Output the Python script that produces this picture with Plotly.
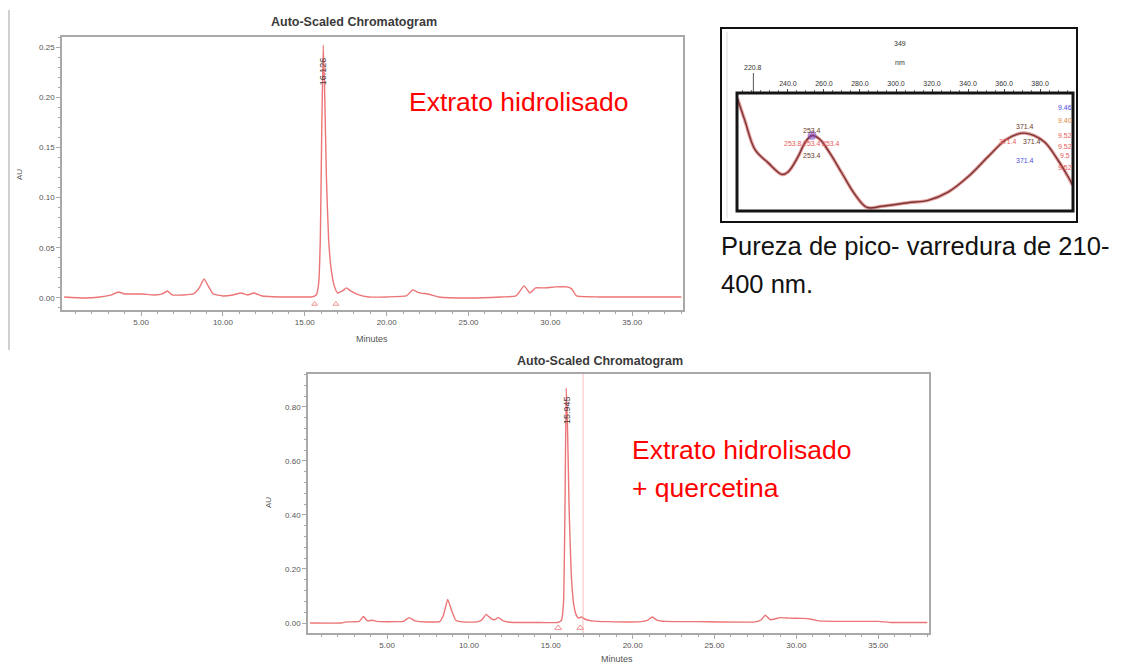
import plotly.graph_objects as go

W, H = 1131, 664

# --- Chromatogram 1: hydrolysed extract (time in min, absorbance in AU) ---
ext_time = [0.3, 1.5, 2.5, 3.2, 3.6, 4.0, 5.0, 5.8, 6.3, 6.6, 6.9, 7.6, 8.2, 8.55, 8.85,
            9.1, 9.4, 10.0, 10.6, 11.1, 11.5, 11.9, 12.4, 13.5, 14.5, 15.4, 15.7, 15.85,
            15.95, 16.03, 16.126, 16.22, 16.32, 16.45, 16.6, 16.8, 17.0, 17.3, 17.55,
            17.8, 18.3, 18.9, 20.0, 21.2, 21.6, 22.0, 22.5, 23.2, 25.0, 27.0, 27.9, 28.4,
            28.75, 29.1, 29.6, 30.3, 31.0, 31.3, 31.6, 33.0, 35.0, 38.0]
ext_au = [0.001, 0.000, 0.001, 0.003, 0.006, 0.004, 0.004, 0.003, 0.004, 0.007, 0.003,
          0.003, 0.004, 0.010, 0.019, 0.012, 0.004, 0.002, 0.003, 0.005, 0.003, 0.005,
          0.002, 0.001, 0.001, 0.001, 0.003, 0.015, 0.060, 0.160, 0.252, 0.200, 0.120,
          0.060, 0.030, 0.012, 0.005, 0.007, 0.010, 0.007, 0.003, 0.001, 0.001, 0.002,
          0.008, 0.005, 0.004, 0.001, 0.000, 0.001, 0.002, 0.012, 0.005, 0.010, 0.010,
          0.011, 0.011, 0.009, 0.002, 0.001, 0.001, 0.001]
ext_peak_rt = 16.126
ext_peak_label = "16.126"
ext_marks_t = [15.6, 16.9]

# --- Chromatogram 2: hydrolysed extract spiked with quercetin ---
spk_time = [0.3, 2.2, 2.5, 3.3, 3.55, 3.8, 4.1, 4.4, 5.5, 6.0, 6.35, 6.7, 7.5, 8.2, 8.45,
            8.7, 8.95, 9.2, 9.6, 10.5, 10.8, 11.05, 11.35, 11.55, 11.8, 12.1, 12.5, 14.0,
            15.4, 15.65, 15.78, 15.87, 15.945, 16.03, 16.12, 16.25, 16.4, 16.55, 16.7,
            16.85, 17.1, 17.5, 18.5, 20.5, 20.9, 21.2, 21.5, 22.0, 24.0, 27.5, 27.85,
            28.1, 28.4, 28.7, 29.0, 29.6, 30.4, 30.9, 31.4, 33.0, 35.0, 35.8, 38.0]
spk_au = [0.000, 0.000, 0.004, 0.006, 0.024, 0.008, 0.010, 0.006, 0.005, 0.006, 0.020,
          0.008, 0.004, 0.005, 0.030, 0.087, 0.045, 0.010, 0.004, 0.004, 0.012, 0.032,
          0.016, 0.012, 0.020, 0.008, 0.003, 0.002, 0.002, 0.010, 0.080, 0.450, 0.870,
          0.700, 0.420, 0.180, 0.070, 0.030, 0.018, 0.022, 0.014, 0.008, 0.005, 0.005,
          0.010, 0.022, 0.010, 0.006, 0.005, 0.004, 0.012, 0.029, 0.012, 0.015, 0.020,
          0.018, 0.017, 0.014, 0.008, 0.006, 0.006, 0.002, 0.002]
spk_peak_rt = 15.945
spk_peak_label = "15.945"
spk_marks_t = [15.45, 16.8]
spk_end_line_t = 16.97

# --- UV spectrum across the main peak (relative absorbance) ---
wl_nm = [212.0, 216.0, 221.7, 228.9, 236.7, 240.0, 245.6, 249.5, 253.4, 257.5, 263.3,
         270.0, 277.2, 283.9, 292.2, 306.7, 317.8, 328.9, 340.0, 351.1, 360.6, 367.0,
         371.4, 376.5, 382.8, 390.0, 395.6, 398.0]
rel_abs = [0.95, 0.77, 0.52, 0.41, 0.31, 0.33, 0.46, 0.58, 0.64, 0.61, 0.49, 0.32, 0.14,
           0.03, 0.04, 0.07, 0.09, 0.16, 0.29, 0.46, 0.60, 0.65, 0.66, 0.64, 0.58, 0.43,
           0.29, 0.22]
wl_ticks = [240, 260, 280, 300, 320, 340, 360, 380]
lambda_max = [253.4, 371.4]
scan_start_label = "220.8"

LINE = "#ec7476"
AXC = "#a8a8a8"
TXT = "#555555"
FONT = "Liberation Sans, Arial, sans-serif"


def px(x):
    return x / W


def py(y):
    return 1 - y / H


def note(text, x, y, size, color, xref="paper", yref="paper", xanchor="center", **kw):
    if xref == "paper":
        x = px(x)
    if yref == "paper":
        y = py(y)
    return dict(text=text, x=x, y=y, xref=xref, yref=yref, xanchor=xanchor, yanchor="middle",
                showarrow=False, font=dict(size=size, color=color, family=FONT), **kw)


fig = go.Figure()

fig.add_trace(go.Scatter(x=ext_time, y=ext_au, mode="lines",
                         line=dict(color=LINE, width=1.4, shape="spline", smoothing=0.4),
                         xaxis="x", yaxis="y", hoverinfo="skip"))
fig.add_trace(go.Scatter(x=ext_marks_t, y=[-0.006] * len(ext_marks_t), mode="markers",
                         marker=dict(symbol="triangle-up-open", size=5, color="#f09090"),
                         xaxis="x", yaxis="y", hoverinfo="skip"))

fig.add_trace(go.Scatter(x=spk_time, y=spk_au, mode="lines",
                         line=dict(color=LINE, width=1.4, shape="spline", smoothing=0.4),
                         xaxis="x2", yaxis="y2", hoverinfo="skip"))
fig.add_trace(go.Scatter(x=spk_marks_t, y=[-0.018] * len(spk_marks_t), mode="markers",
                         marker=dict(symbol="triangle-up-open", size=6, color="#f09090"),
                         xaxis="x2", yaxis="y2", hoverinfo="skip"))

fig.add_trace(go.Scatter(x=wl_nm, y=rel_abs, mode="lines",
                         line=dict(color="#e6a0a0", width=3.5, shape="spline", smoothing=1.0),
                         xaxis="x3", yaxis="y3", hoverinfo="skip"))
fig.add_trace(go.Scatter(x=wl_nm, y=rel_abs, mode="lines",
                         line=dict(color="#7a3434", width=1.4, shape="spline", smoothing=1.0),
                         xaxis="x3", yaxis="y3", hoverinfo="skip"))
fig.add_trace(go.Scatter(x=[lambda_max[0]], y=[rel_abs[wl_nm.index(lambda_max[0])]], mode="markers",
                         marker=dict(size=9, color="rgba(120,70,200,0.55)"),
                         xaxis="x3", yaxis="y3", hoverinfo="skip"))


def chrom_xaxis(domain, anchor):
    return dict(domain=domain, anchor=anchor, range=[0.17, 38.1], showgrid=False, zeroline=False,
                showline=True, linecolor=AXC, linewidth=1.5, mirror=True,
                ticks="outside", ticklen=4, tickcolor=AXC,
                tickvals=[5, 10, 15, 20, 25, 30, 35], tickformat=".2f",
                tickfont=dict(size=8, color=TXT, family=FONT),
                minor=dict(dtick=1, ticks="outside", ticklen=2, tickcolor=AXC))


def chrom_yaxis(domain, anchor, rng, dtick, minor):
    return dict(domain=domain, anchor=anchor, range=rng, showgrid=False, zeroline=False,
                showline=True, linecolor=AXC, linewidth=1.5, mirror=True,
                ticks="outside", ticklen=4, tickcolor=AXC, dtick=dtick, tick0=0,
                tickformat=".2f", tickfont=dict(size=8, color=TXT, family=FONT),
                minor=dict(dtick=minor, ticks="outside", ticklen=2, tickcolor=AXC))


annotations = []
shapes = []

# chart titles, axis titles
for xc, yc in [(354, 22), (600, 361)]:
    annotations.append(note("<b>Auto-Scaled Chromatogram</b>", xc, yc, 12.5, "#3a3a3a"))
for xc, yc in [(372, 339), (617, 659)]:
    annotations.append(note("Minutes", xc, yc, 9, TXT))
for xc, yc in [(20, 175), (268, 503)]:
    annotations.append(note("AU", xc, yc, 8, TXT, textangle=-90))

# retention time labels
annotations.append(note(ext_peak_label, ext_peak_rt, 0.226, 9, "#4a3a3a", xref="x", yref="y", textangle=-90))
annotations.append(note(spk_peak_label, spk_peak_rt, 0.79, 9, "#4a3a3a", xref="x2", yref="y2", textangle=-90))

# sample captions
RED = "#ff0000"
annotations.append(note("Extrato hidrolisado", 407, 102, 26.5, RED, xanchor="left"))
annotations.append(note("Extrato hidrolisado", 630, 450, 26.5, RED, xanchor="left"))
annotations.append(note("+ quercetina", 630, 488, 26.5, RED, xanchor="left"))

# spectrum caption
annotations.append(note("Pureza de pico- varredura de 210-", 719, 246, 25.5, "#111111", xanchor="left"))
annotations.append(note("400 nm.", 719, 284, 25.5, "#111111", xanchor="left"))

# spectrum header texts
annotations.append(note("349", 900, 43, 7, "#333333"))
annotations.append(note("nm", 900, 62, 7, "#333333"))
annotations.append(note(scan_start_label, float(scan_start_label), 67, 7, "#333333", xref="x3"))
shapes.append(dict(type="line", xref="x3", yref="paper", x0=float(scan_start_label),
                   x1=float(scan_start_label), y0=py(73), y1=py(93), line=dict(color="#555555", width=1)))

# lambda-max labels on the spectrum
DARK, LRED, BLUE, ORANGE = "#6b3a2a", "#e85a5a", "#4a4ad8", "#e08a40"
lm1, lm2 = lambda_max
spec_labels = [
    (f"{lm1:.1f}", lm1, 0.68, DARK), (f"{lm1:.1f}", lm1, 0.47, DARK),
    ("253.8", lm1 - 10.5, 0.575, LRED), (f"{lm1:.1f}", lm1, 0.575, LRED), (f"{lm1:.1f}", lm1 + 10.5, 0.575, LRED),
    (f"{lm2:.1f}", lm2, 0.72, DARK), (f"{lm2:.1f}", lm2, 0.43, BLUE),
    (f"{lm2:.1f}", lm2 - 9, 0.585, LRED), (f"{lm2:.1f}", lm2 + 4, 0.585, DARK),
    ("9.46", 394, 0.88, BLUE), ("9.40", 394, 0.77, ORANGE), ("9.52", 394, 0.64, LRED),
    ("9.52", 394, 0.55, LRED), ("9.5", 394, 0.47, LRED), ("9.52", 394, 0.37, LRED),
]
for txt, xv, yv, col in spec_labels:
    annotations.append(note(txt, xv, yv, 7, col, xref="x3", yref="y3"))

# frames around the spectrum panel
shapes.append(dict(type="rect", xref="paper", yref="paper", x0=px(721), x1=px(1077), y0=py(222), y1=py(28),
                   line=dict(color="#111111", width=2)))
shapes.append(dict(type="line", xref="paper", yref="paper", x0=px(727), x1=px(727), y0=py(218), y1=py(32),
                   line=dict(color="#dddddd", width=1)))
shapes.append(dict(type="rect", xref="x3 domain", yref="y3 domain", x0=0, x1=1, y0=0, y1=1,
                   line=dict(color="#151515", width=3)))

# integration end marker on the spiked run
shapes.append(dict(type="line", xref="x2", yref="y2 domain", x0=spk_end_line_t, x1=spk_end_line_t, y0=0, y1=1,
                   line=dict(color="rgba(240,150,150,0.6)", width=1)))

# page edge rule on the left
shapes.append(dict(type="line", xref="paper", yref="paper", x0=px(9), x1=px(9), y0=py(350), y1=py(10),
                   line=dict(color="#d0d0d0", width=2)))

fig.update_layout(
    width=W, height=H, margin=dict(l=0, r=0, t=0, b=0),
    paper_bgcolor="white", plot_bgcolor="white", showlegend=False,
    xaxis=chrom_xaxis([px(62), px(683)], "y"),
    yaxis=chrom_yaxis([py(310), py(37)], "x", [-0.012, 0.26], 0.05, 0.01),
    xaxis2=chrom_xaxis([px(308), px(929)], "y2"),
    yaxis2=chrom_yaxis([py(633), py(374)], "x2", [-0.037, 0.922], 0.2, 0.04),
    xaxis3=dict(domain=[px(737), px(1073)], anchor="y3", side="top", range=[211.7, 398.3],
                showgrid=False, zeroline=False, showline=False, ticks="outside", ticklen=3,
                tickcolor="#444444", tickvals=wl_ticks, tickformat=".1f",
                tickfont=dict(size=7, color="#333333", family=FONT),
                minor=dict(dtick=5, ticks="outside", ticklen=2, tickcolor="#777777")),
    yaxis3=dict(domain=[py(211), py(93)], anchor="x3", range=[0, 1], visible=False),
    annotations=annotations, shapes=shapes,
)

fig.write_html("out.html")
